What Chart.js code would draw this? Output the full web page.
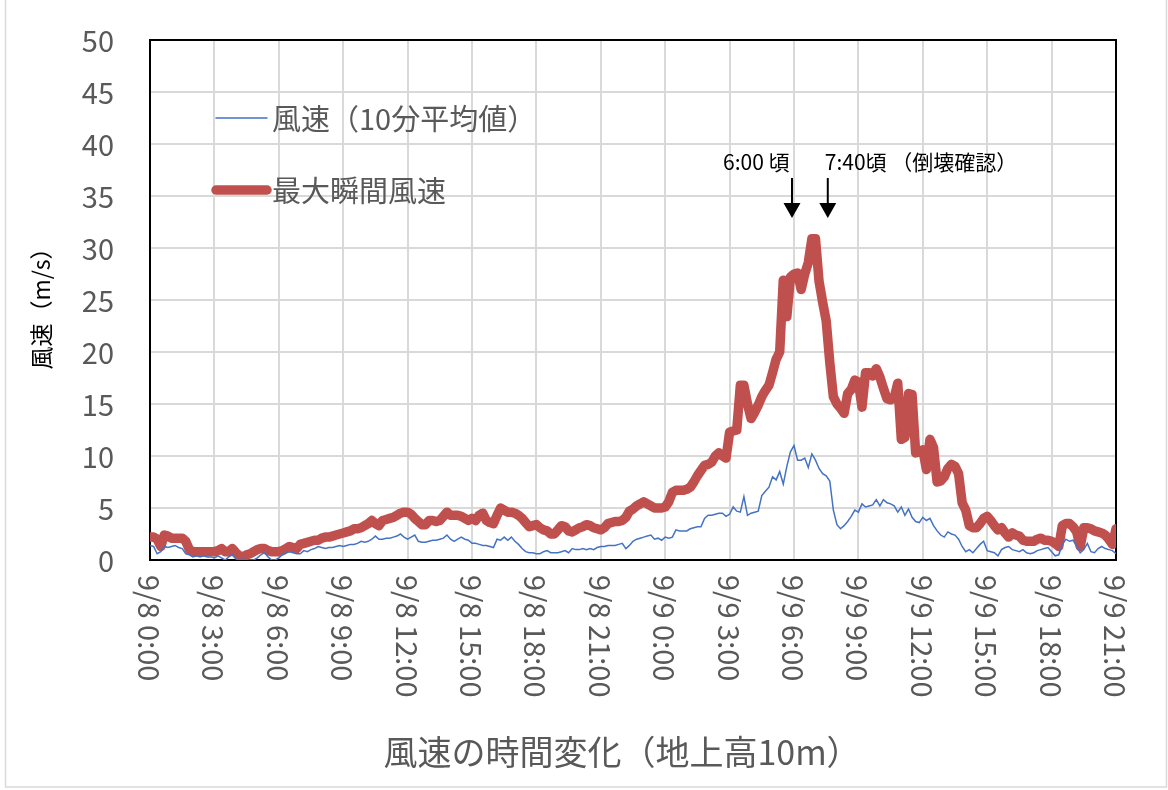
<!DOCTYPE html>
<html>
<head>
<meta charset="utf-8">
<script src="https://cdn.jsdelivr.net/npm/chart.js@4.4.1/dist/chart.umd.min.js"></script>
<style>
html,body{margin:0;padding:0;background:#fff;}
canvas{display:block;}
</style>
</head>
<body>
<canvas id="c" width="1168" height="790"></canvas>
<script>
// 10-minute data, 9/8 0:00 .. 9/9 21:00 (271 points)
const stepMinutes = 10;
const tickLabels = ["9/8 0:00","9/8 3:00","9/8 6:00","9/8 9:00","9/8 12:00","9/8 15:00","9/8 18:00","9/8 21:00",
  "9/9 0:00","9/9 3:00","9/9 6:00","9/9 9:00","9/9 12:00","9/9 15:00","9/9 18:00","9/9 21:00"];
const tickHours = [0,3,6,9,12,15,18,21,24,27,30,33,36,39,42,45];

const avgWind = [
 1.4,1.3,0.6,0.8,1.3,1.2, 1.3,1.4,1.2,1.1,0.6,0.5, 0.3,0.4,0.3,0.4,0.3,0.3, 0.2,0.4,0.2,0.0,0.3,0.5,
 0.1,0.0,0.1,0.0,0.0,0.0, 0.2,0.5,0.7,0.3,0.0,0.0, 0.2,0.5,0.7,0.8,0.7,0.6, 0.6,0.9,0.8,1.0,1.1,1.3,
 1.2,1.1,1.2,1.2,1.3,1.4, 1.3,1.4,1.5,1.5,1.6,1.8, 1.7,1.8,2.0,2.3,2.0,2.0, 2.1,2.1,2.2,2.3,2.5,2.2,
 2.0,2.2,2.4,1.8,1.7,1.7, 1.8,1.9,1.9,2.0,2.1,2.4, 2.0,1.8,2.0,2.2,2.0,1.9, 1.6,1.6,1.5,1.4,1.4,1.3,
 1.2,2.0,1.9,2.2,1.9,2.2, 1.8,1.5,1.1,0.8,0.7,0.7, 0.6,0.6,0.8,0.9,0.7,0.7, 0.7,0.8,0.9,0.7,1.1,1.0,
 1.0,1.1,1.0,1.1,1.0,1.2, 1.3,1.3,1.4,1.4,1.4,1.5, 1.6,1.1,1.4,1.8,2.0,2.1, 2.2,2.3,2.4,2.0,2.1,1.9,
 2.2,2.1,2.2,2.9,2.8,2.8, 2.8,3.0,3.1,3.2,3.2,4.0, 4.3,4.3,4.4,4.5,4.5,4.2, 4.4,5.1,4.7,4.6,6.1,4.3,
 4.5,4.6,4.7,6.2,6.6,7.0, 8.0,7.7,8.5,7.3,9.0,10.4, 11.0,9.6,9.6,9.8,8.9,10.2, 9.6,8.8,8.3,8.1,7.6,4.8,
 3.4,3.0,3.3,3.7,4.2,4.8, 4.6,5.4,5.1,5.2,5.3,5.8, 5.2,5.8,5.5,5.4,5.2,4.6, 5.1,4.3,4.9,4.1,3.7,3.6,
 4.1,3.8,4.0,3.3,2.8,2.4, 2.2,2.7,2.5,2.4,2.0,1.3, 0.8,1.0,0.7,1.1,1.5,1.8, 0.9,0.8,0.7,0.4,1.0,1.2,
 1.3,1.0,0.9,0.8,1.0,0.7, 0.6,0.7,0.9,1.0,1.1,1.2, 0.8,0.4,0.5,1.5,2.0,1.8, 1.9,1.3,0.7,1.0,1.6,0.8,
 0.7,1.1,1.3,1.1,1.0,0.9, 0.6
];

const maxGust = [
 2.2,2.2,2.0,1.3,2.4,2.3, 2.1,2.1,2.1,2.1,1.8,1.0, 0.8,0.8,0.8,0.8,0.8,0.8, 0.8,0.9,1.1,0.8,0.8,1.1,
 0.7,0.4,0.3,0.5,0.6,0.8, 1.0,1.1,1.1,0.9,0.8,0.8, 0.8,0.9,1.1,1.3,1.2,1.1, 1.5,1.6,1.7,1.8,1.9,1.9,
 2.1,2.2,2.2,2.3,2.4,2.5, 2.6,2.7,2.8,3.0,3.0,3.1, 3.3,3.5,3.8,3.5,3.3,3.8, 3.9,4.0,4.1,4.3,4.5,4.6,
 4.6,4.4,4.0,3.7,3.4,3.4, 3.8,3.8,3.7,3.8,4.2,4.6, 4.3,4.3,4.3,4.2,4.0,3.8, 4.0,3.8,4.3,4.5,3.8,3.6,
 3.5,4.3,5.0,4.8,4.6,4.6, 4.5,4.3,4.0,3.6,3.2,3.3, 3.4,3.1,2.9,2.8,2.5,2.5, 2.9,3.3,3.2,2.8,2.7,2.9,
 3.1,3.2,3.4,3.3,3.1,3.0, 2.9,3.1,3.5,3.6,3.7,3.7, 3.8,4.1,4.7,4.9,5.2,5.4, 5.6,5.4,5.2,5.0,5.0,5.0,
 5.1,5.6,6.5,6.7,6.7,6.7, 6.8,7.0,7.5,8.1,8.6,9.1, 9.2,9.4,10.0,10.3,10.0,9.8, 12.3,12.4,12.5,16.8,16.8,15.0,
 13.6,14.2,14.9,15.7,16.3,16.8, 18.0,19.3,20.0,26.9,23.4,27.2, 27.5,27.6,26.0,27.5,28.6,30.9, 30.9,26.8,24.8,23.0,19.0,15.7,
 15.0,14.6,14.1,16.0,16.4,17.3, 17.1,14.7,18.0,18.0,17.7,18.4, 17.6,16.5,15.5,15.4,15.6,17.0, 11.6,11.8,16.0,15.9,10.3,10.4,
 10.6,8.7,11.6,10.8,7.5,7.6, 8.0,8.8,9.2,9.0,8.3,5.5, 4.8,3.3,3.1,3.1,3.5,4.0, 4.2,3.8,3.3,2.9,3.1,2.6,
 2.2,2.6,2.4,2.3,1.9,1.8, 1.8,1.8,2.0,2.1,1.9,1.9, 1.8,1.6,1.3,3.3,3.5,3.5, 3.2,2.7,1.3,3.1,3.1,3.0,
 2.8,2.7,2.6,2.4,2.0,1.5, 3.0
];

const seriesNames = ["風速（10分平均値）", "最大瞬間風速"];
const yTitle = "風速（m/s）";
const xTitle = "風速の時間変化（地上高10m）";
const notes = [
  {hour: 30, text: "6:00 頃", dx: -69},
  {hour: 31 + 40/60, text: "7:40頃 （倒壊確認）", dx: -3}
];

const FONT = '"Noto Sans CJK JP", "Noto Sans", sans-serif';
const toXY = arr => arr.map((v, i) => ({x: i * stepMinutes / 60, y: v}));

const overlay = {
  id: 'overlay',
  beforeDatasetsDraw(chart) {
    const {ctx, chartArea: a} = chart;
    ctx.save();
    ctx.strokeStyle = '#000';
    ctx.lineWidth = 2;
    ctx.strokeRect(a.left, a.top, a.right - a.left, a.bottom - a.top);
    ctx.restore();
  },
  afterDraw(chart) {
    const {ctx, chartArea: a} = chart;
    const xs = chart.scales.x;
    const ys = chart.scales.y;
    ctx.save();
    // outer chart border
    ctx.strokeStyle = '#d9d9d9';
    ctx.lineWidth = 1.5;
    ctx.strokeRect(5.5, -2, 1161, 789);

    // y tick labels
    ctx.fillStyle = '#595959';
    ctx.font = '29px ' + FONT;
    ctx.textAlign = 'right';
    ctx.textBaseline = 'middle';
    for (let v = 0; v <= 50; v += 5) {
      ctx.fillText(String(v), 114, ys.getPixelForValue(v) + 1);
    }

    // y title
    ctx.save();
    ctx.fillStyle = '#000';
    ctx.font = '23px ' + FONT;
    ctx.textAlign = 'center';
    ctx.translate(41, 303);
    ctx.rotate(-Math.PI / 2);
    ctx.fillText(yTitle, 0, 0);
    ctx.restore();

    // x tick labels rotated clockwise
    ctx.fillStyle = '#595959';
    ctx.font = '29px ' + FONT;
    ctx.textAlign = 'left';
    ctx.textBaseline = 'middle';
    tickHours.forEach((h, k) => {
      const x = xs.getPixelForValue(h);
      ctx.save();
      ctx.translate(x, a.bottom + 15);
      ctx.rotate(Math.PI / 2);
      ctx.fillText(tickLabels[k], 0, 1);
      ctx.restore();
    });

    // x title
    ctx.font = '34px ' + FONT;
    ctx.textAlign = 'center';
    ctx.fillText(xTitle, (a.left + a.right) / 2 - 11, 752);

    // legend
    const ds = chart.data.datasets;
    const legendRows = [{y: 118, ds: ds[0]}, {y: 190, ds: ds[1]}];
    ctx.font = '29px ' + FONT;
    ctx.textAlign = 'left';
    legendRows.forEach(r => {
      ctx.strokeStyle = r.ds.borderColor;
      ctx.lineWidth = r.ds.borderWidth;
      ctx.lineCap = 'round';
      ctx.beginPath();
      ctx.moveTo(216, r.y);
      ctx.lineTo(267, r.y);
      ctx.stroke();
      ctx.fillStyle = '#595959';
      ctx.fillText(r.ds.label, 272, r.y + 1);
    });

    // annotations
    ctx.fillStyle = '#000';
    ctx.strokeStyle = '#000';
    ctx.font = '21px ' + FONT;
    ctx.lineCap = 'butt';
    notes.forEach(n => {
      const x = xs.getPixelForValue(n.hour) - 2;
      ctx.fillText(n.text, x + n.dx, 162);
      ctx.lineWidth = 2;
      ctx.beginPath();
      ctx.moveTo(x, 178);
      ctx.lineTo(x, 206);
      ctx.stroke();
      ctx.beginPath();
      ctx.moveTo(x - 8.5, 203);
      ctx.lineTo(x + 8.5, 203);
      ctx.lineTo(x, 218);
      ctx.closePath();
      ctx.fill();
    });
    ctx.restore();
  }
};

new Chart(document.getElementById('c'), {
  type: 'line',
  data: {
    datasets: [
      {label: seriesNames[0], data: toXY(avgWind), borderColor: '#4472C4', borderWidth: 1.5,
       pointRadius: 0, tension: 0, order: 1},
      {label: seriesNames[1], data: toXY(maxGust), borderColor: '#C0504D', borderWidth: 9.5,
       pointRadius: 0, tension: 0, borderJoinStyle: 'round', borderCapStyle: 'round', order: 2}
    ]
  },
  options: {
    responsive: false,
    animation: false,
    events: [],
    layout: {padding: {left: 0, top: 40, right: 52, bottom: 230}},
    plugins: {legend: {display: false}, tooltip: {enabled: false}},
    scales: {
      x: {
        type: 'linear', min: 0, max: 45,
        ticks: {display: false, stepSize: 3},
        grid: {color: '#d9d9d9', lineWidth: 2, drawTicks: false},
        border: {display: false},
        afterFit(s) { s.height = 0; s.paddingLeft = 0; s.paddingRight = 0; }
      },
      y: {
        min: 0, max: 50,
        ticks: {display: false, stepSize: 5},
        grid: {color: '#d9d9d9', lineWidth: 2, drawTicks: false},
        border: {display: false},
        afterFit(s) { s.width = 150; s.paddingTop = 0; s.paddingBottom = 0; }
      }
    }
  },
  plugins: [overlay]
});
</script>
</body>
</html>
